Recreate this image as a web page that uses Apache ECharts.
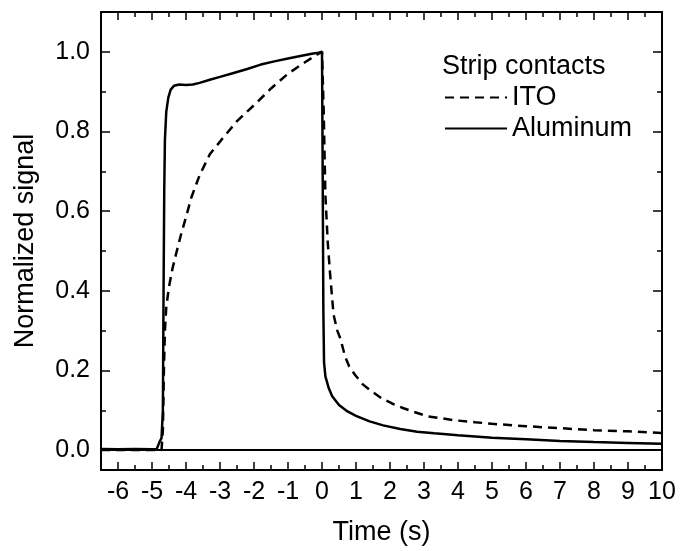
<!DOCTYPE html>
<html>
<head>
<meta charset="utf-8">
<script src="https://cdn.jsdelivr.net/npm/echarts@6/dist/echarts.min.js"></script>
<style>
html,body{margin:0;padding:0;background:#fff;}
#c{width:690px;height:551px;}
</style>
</head>
<body>
<div id="c"></div>
<script>
// ---- data ----
var alTime = [-6.5,-6.0,-5.5,-5.0,-4.86,-4.78,-4.72,-4.70,-4.68,-4.66,-4.64,-4.62,-4.58,-4.52,-4.45,-4.35,-4.2,-4.0,-3.8,-3.6,-3.3,-3.0,-2.6,-2.2,-1.8,-1.4,-1.0,-0.6,-0.3,-0.1,0.0,0.02,0.04,0.06,0.1,0.2,0.3,0.5,0.75,1.0,1.4,1.8,2.3,2.8,3.3,4.0,5.0,6.0,7.0,8.0,9.0,10.0];
var alSignal = [0.003,0.002,0.003,0.002,0.003,0.02,0.03,0.035,0.1,0.4,0.65,0.78,0.85,0.885,0.905,0.915,0.918,0.917,0.918,0.922,0.93,0.937,0.947,0.957,0.968,0.976,0.983,0.99,0.995,0.998,1.0,0.7,0.35,0.22,0.185,0.155,0.135,0.113,0.097,0.086,0.072,0.062,0.053,0.046,0.042,0.037,0.031,0.027,0.023,0.020,0.018,0.016];
var itoTime = [-6.5,-5.0,-4.72,-4.68,-4.65,-4.62,-4.58,-4.5,-4.4,-4.3,-4.15,-4.0,-3.84,-3.6,-3.3,-2.9,-2.5,-2.0,-1.5,-1.0,-0.5,-0.15,0.0,0.05,0.1,0.17,0.24,0.34,0.45,0.54,0.68,0.8,0.98,1.2,1.47,1.75,2.06,2.4,2.7,3.1,3.5,3.88,4.5,5.0,6.0,7.0,8.0,9.0,10.0];
var itoSignal = [0.0,0.0,0.0,0.05,0.2,0.3,0.36,0.41,0.455,0.49,0.54,0.585,0.635,0.69,0.743,0.785,0.826,0.866,0.908,0.945,0.974,0.993,1.0,0.85,0.64,0.52,0.44,0.34,0.3,0.28,0.235,0.21,0.188,0.165,0.147,0.13,0.117,0.105,0.096,0.085,0.08,0.075,0.07,0.066,0.06,0.055,0.05,0.047,0.043];
var xMajorTicks = [-6,-5,-4,-3,-2,-1,0,1,2,3,4,5,6,7,8,9,10];
var yMajorTicks = [0,0.2,0.4,0.6,0.8,1.0];
var yMinorTicks = [0,0.1,0.2,0.3,0.4,0.5,0.6,0.7,0.8,0.9,1.0];
var seriesNames = ['ITO','Aluminum'];
var legendTitle = 'Strip contacts';
var xTitle = 'Time (s)';
var yTitle = 'Normalized signal';

function zip(a,b){ return a.map(function(v,i){ return [v,b[i]]; }); }

var FONT = 'Liberation Sans';
var XMIN = -6.5, XMAX = 10, YMIN = -0.05, YMAX = 1.1;
var lineCol = '#000';

function xAxisCfg(pos, major, extra){
  var a = {
    type:'value', position:pos, min:XMIN, max:XMAX,
    axisLine:{show:major, onZero:false, lineStyle:{color:lineCol,width:2}},
    splitLine:{show:false},
    axisLabel:{show:false},
    axisTick:{show:true, inside:true, length: major?8:5, lineStyle:{color:lineCol,width:1.5}}
  };
  if (major){ a.axisTick.customValues = xMajorTicks; }
  else { a.interval = 0.5; }
  return Object.assign(a, extra||{});
}
function yAxisCfg(pos, major, extra){
  var a = {
    type:'value', position:pos, min:YMIN, max:YMAX,
    axisLine:{show:major, onZero:false, lineStyle:{color:lineCol,width:2}},
    splitLine:{show:false},
    axisLabel:{show:false},
    axisTick:{show:true, inside:true, length: major?9:5, lineStyle:{color:lineCol,width:1.5},
      customValues: major ? yMajorTicks : yMinorTicks}
  };
  return Object.assign(a, extra||{});
}

var chart = echarts.init(document.getElementById('c'), null, {renderer:'canvas'});
var option = {
  animation:false,
  backgroundColor:'#fff',
  textStyle:{fontFamily:FONT},
  grid:{left:101, right:28, top:12, bottom:73, containLabel:false},
  title:{text:legendTitle, left:442, top:53, padding:0,
    textStyle:{fontFamily:FONT, fontSize:27, fontWeight:'normal', color:'#000'}},
  legend:{
    data:seriesNames, orient:'vertical', left:444, top:84, padding:0,
    itemWidth:62, itemHeight:14, itemGap:4,
    itemStyle:{opacity:0},
    textStyle:{fontFamily:FONT, fontSize:27, color:'#000'}
  },
  xAxis:[
    xAxisCfg('bottom', true, {
      name:xTitle, nameLocation:'middle', nameGap:49,
      nameTextStyle:{fontFamily:FONT, fontSize:27, color:'#000'},
      axisLabel:{show:true, customValues:xMajorTicks, margin:10, fontFamily:FONT, fontSize:25, color:'#000',
        formatter:function(v){ return String(v); }}
    }),
    xAxisCfg('bottom', false),
    xAxisCfg('top', true),
    xAxisCfg('top', false)
  ],
  yAxis:[
    yAxisCfg('left', true, {
      name:yTitle, nameLocation:'middle', nameGap:62,
      nameTextStyle:{fontFamily:FONT, fontSize:27, color:'#000'},
      axisLabel:{show:true, customValues:yMajorTicks, margin:11, fontFamily:FONT, fontSize:25, color:'#000',
        formatter:function(v){ return v.toFixed(1); }}
    }),
    yAxisCfg('left', false),
    yAxisCfg('right', true),
    yAxisCfg('right', false)
  ],
  series:[
    {
      name:seriesNames[0], type:'line', xAxisIndex:0, yAxisIndex:0,
      data:zip(itoTime, itoSignal), symbol:'none', smooth:false,
      lineStyle:{color:'#000', width:2.5, type:[9,6]},
      itemStyle:{color:'#000'}
    },
    {
      name:seriesNames[1], type:'line', xAxisIndex:0, yAxisIndex:0,
      data:zip(alTime, alSignal), symbol:'none', smooth:false,
      lineStyle:{color:'#000', width:2.5, type:'solid'},
      itemStyle:{color:'#000'},
      markLine:{silent:true, symbol:['none','none'], label:{show:false},
        lineStyle:{color:'#000', width:2, type:'solid'},
        data:[{yAxis:0}]}
    }
  ]
};
chart.setOption(option);
</script>
</body>
</html>
